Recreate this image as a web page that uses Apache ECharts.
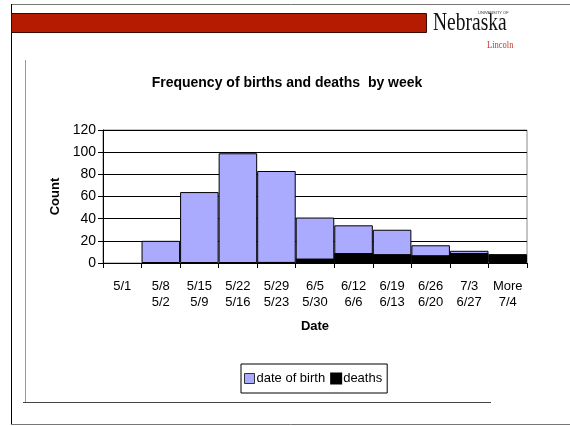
<!DOCTYPE html>
<html>
<head>
<meta charset="utf-8">
<script src="https://cdn.jsdelivr.net/npm/echarts@6/dist/echarts.min.js"></script>
<style>
  html, body { margin: 0; padding: 0; background: #fff; }
  #chart { width: 570px; height: 426px; }
</style>
</head>
<body>
<div id="chart"></div>
<script>
// week bins (upper / lower date of each bin)
const weekLabels = ['5/1', '5/8\n5/2', '5/15\n5/9', '5/22\n5/16', '5/29\n5/23', '6/5\n5/30',
  '6/12\n6/6', '6/19\n6/13', '6/26\n6/20', '7/3\n6/27', 'More\n7/4']
const births = [0, 20, 64, 99, 83, 41, 34, 30, 16, 11, 0]
const deaths = [0, 0, 0, 0, 1, 4, 9, 8, 7, 9, 8]
const yTicks = [0, 20, 40, 60, 80, 100, 120]

const font = 'Arial, "Liberation Sans", sans-serif'
const serif = '"Liberation Serif", "DejaVu Serif", serif'
// empty bins draw nothing (no outline on the axis)
const noZero = (arr) => arr.map((v) => (v === 0 ? null : v))

const myChart = echarts.init(document.getElementById('chart'))

const option = {
  animation: false,
  backgroundColor: '#fff',
  textStyle: { fontFamily: font },
  title: {
    text: 'Frequency of births and deaths  by week',
    left: 282,
    textAlign: 'center',
    top: 71,
    textStyle: { fontSize: 14, fontWeight: 'bold', color: '#000', fontFamily: font }
  },
  legend: {
    data: [
      { name: 'date of birth', itemStyle: { borderColor: '#333', borderWidth: 1 } },
      { name: 'deaths' }
    ],
    icon: 'rect',
    left: 241,
    top: 364,
    orient: 'horizontal',
    itemWidth: 10,
    itemHeight: 10,
    itemGap: 5,
    padding: [8, 5, 8, 3],
    borderColor: '#000',
    borderWidth: 1,
    textStyle: { fontSize: 13, color: '#000', padding: [0, 0, 0, -3] }
  },
  grid: {
    left: 103,
    right: 43,
    top: 130,
    bottom: 163,
    show: true,
    borderColor: '#888',
    borderWidth: 1,
    containLabel: false
  },
  xAxis: {
    type: 'category',
    data: weekLabels,
    name: 'Date',
    nameLocation: 'middle',
    nameGap: 57,
    nameTextStyle: { fontSize: 13, fontWeight: 'bold', color: '#000' },
    axisLine: { lineStyle: { color: '#000', width: 1 } },
    axisTick: { show: true, length: 5, lineStyle: { color: '#000' } },
    axisLabel: { fontSize: 13, lineHeight: 16, color: '#000', margin: 15, interval: 0 }
  },
  yAxis: {
    type: 'value',
    min: 0,
    max: 120,
    interval: 20,
    name: 'Count',
    nameLocation: 'middle',
    nameGap: 40,
    nameRotate: 90,
    nameTextStyle: { fontSize: 13, fontWeight: 'bold', color: '#000' },
    axisLine: { show: true, lineStyle: { color: '#000', width: 1 } },
    axisTick: { show: true, length: 5, lineStyle: { color: '#000' } },
    axisLabel: {
      fontSize: 14, color: '#000', margin: 7,
      formatter: (v) => (yTicks.includes(v) ? String(v) : '')
    },
    splitLine: { show: true, lineStyle: { color: '#000', width: 1 } }
  },
  series: [
    {
      name: 'date of birth',
      type: 'bar',
      data: noZero(births),
      barCategoryGap: 0,
      barGap: '-100%',
      itemStyle: { color: '#aaaaff', borderColor: '#000', borderWidth: 1 }
    },
    {
      name: 'deaths',
      type: 'bar',
      data: noZero(deaths),
      barCategoryGap: 0,
      barGap: '-100%',
      itemStyle: { color: '#000', borderColor: '#000', borderWidth: 1 }
    }
  ],
  graphic: [
    // slide frame
    { type: 'line', shape: { x1: 11, y1: 4.5, x2: 570, y2: 4.5 }, style: { stroke: '#777', lineWidth: 1 } },
    { type: 'line', shape: { x1: 11.5, y1: 4, x2: 11.5, y2: 424 }, style: { stroke: '#000', lineWidth: 1 } },
    { type: 'line', shape: { x1: 11, y1: 424.5, x2: 570, y2: 424.5 }, style: { stroke: '#777', lineWidth: 1 } },
    // red header bar
    { type: 'rect', shape: { x: 11.5, y: 13.5, width: 415, height: 19 }, style: { fill: '#b51b00', stroke: '#3a0a00', lineWidth: 1 } },
    // logo
    { type: 'text', x: 433, y: 11, scaleX: 0.78, style: { text: 'Nebraska', fontSize: 25, fontFamily: serif, fill: '#111' } },
    { type: 'text', x: 478, y: 11, style: { text: 'UNIVERSITY OF', fontSize: 4, fontFamily: font, fill: '#333' } },
    { type: 'text', x: 487, y: 40, scaleX: 0.85, style: { text: 'Lincoln', fontSize: 10, fontFamily: serif, fill: '#c0392b' } },
    // chart area frame
    { type: 'line', shape: { x1: 25.5, y1: 60, x2: 25.5, y2: 402 }, style: { stroke: '#999', lineWidth: 1 } },
    { type: 'line', shape: { x1: 23, y1: 402.5, x2: 491, y2: 402.5 }, style: { stroke: '#444', lineWidth: 1 } }
  ]
}

myChart.setOption(option)
</script>
</body>
</html>
